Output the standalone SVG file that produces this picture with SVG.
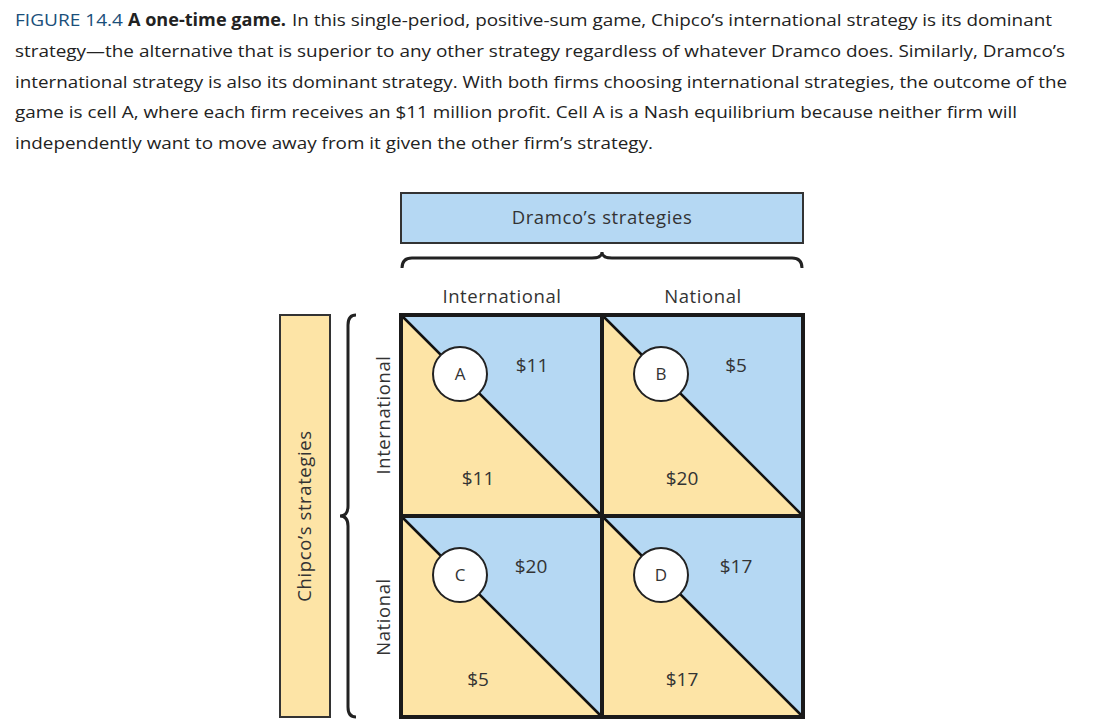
<svg xmlns="http://www.w3.org/2000/svg" width="1110" height="727" viewBox="0 0 1110 727">
<style>
.cap{font-family:"Open Sans","Liberation Sans",sans-serif;font-size:17px;fill:#222}
.lbl{font-family:"Open Sans","Liberation Sans",sans-serif;font-size:18.5px;fill:#333;text-anchor:middle;letter-spacing:0.6px}
.val{font-family:"Open Sans","Liberation Sans",sans-serif;font-size:19px;fill:#333;text-anchor:middle}
.blue{fill:#b5d8f3}
.yel{fill:#fde4a6}
.circ{fill:#fff;stroke:#222;stroke-width:2}
.ltr{font-family:"Open Sans","Liberation Sans",sans-serif;font-size:17px;fill:#333;text-anchor:middle}
.brace{fill:none;stroke:#222;stroke-width:3}
</style>
<rect width="1110" height="727" fill="#fff"/>
<g id="caption">
<text class="cap" x="15" y="26" style="fill:#1a4f7a" textLength="108" lengthAdjust="spacingAndGlyphs">FIGURE 14.4</text>
<text class="cap" x="128" y="26" font-weight="bold" textLength="158" lengthAdjust="spacingAndGlyphs">A one-time game.</text>
<text class="cap" x="292" y="26" textLength="760" lengthAdjust="spacingAndGlyphs">In this single-period, positive-sum game, Chipco’s international strategy is its dominant</text>
<text class="cap" x="15" y="57" textLength="1050" lengthAdjust="spacingAndGlyphs">strategy—the alternative that is superior to any other strategy regardless of whatever Dramco does. Similarly, Dramco’s</text>
<text class="cap" x="15" y="88" textLength="1052" lengthAdjust="spacingAndGlyphs">international strategy is also its dominant strategy. With both firms choosing international strategies, the outcome of the</text>
<text class="cap" x="15" y="118" textLength="1002" lengthAdjust="spacingAndGlyphs">game is cell A, where each firm receives an $11 million profit. Cell A is a Nash equilibrium because neither firm will</text>
<text class="cap" x="15" y="149" textLength="638" lengthAdjust="spacingAndGlyphs">independently want to move away from it given the other firm’s strategy.</text>
</g>
<g id="dramco">
<rect x="401" y="193" width="402" height="50" class="blue" stroke="#333" stroke-width="2"/>
<text class="lbl" x="602" y="224">Dramco’s strategies</text>
</g>
<path class="brace" d="M402,268 Q402,258 412,258 L592,258 Q602,258 602,252 Q602,258 612,258 L792,258 Q802,258 802,268"/>
<text class="lbl" x="502" y="303">International</text>
<text class="lbl" x="703" y="303">National</text>
<g id="chipco">
<rect x="280" y="315" width="50" height="402" class="yel" stroke="#333" stroke-width="2"/>
<text class="lbl" transform="translate(311,516) rotate(-90)">Chipco’s strategies</text>
</g>
<path class="brace" d="M356,315 Q348,315 348,325 L348,506 Q348,516 340,516 Q348,516 348,526 L348,707 Q348,717 356,717"/>
<text class="lbl" transform="translate(390,415) rotate(-90)">International</text>
<text class="lbl" transform="translate(390,617) rotate(-90)">National</text>
<g id="cellA">
<polygon class="yel" points="401,315 602,516 401,516"/>
<polygon class="blue" points="401,315 602,315 602,516"/>
<line x1="401" y1="315" x2="602" y2="516" stroke="#111" stroke-width="2.5"/>
<circle class="circ" cx="460" cy="374" r="27"/>
<text class="ltr" x="460" y="380">A</text>
<text class="val" x="532" y="372">$11</text>
<text class="val" x="478" y="485">$11</text>
</g>
<g id="cellB">
<polygon class="yel" points="602,315 803,516 602,516"/>
<polygon class="blue" points="602,315 803,315 803,516"/>
<line x1="602" y1="315" x2="803" y2="516" stroke="#111" stroke-width="2.5"/>
<circle class="circ" cx="661" cy="374" r="27"/>
<text class="ltr" x="661" y="380">B</text>
<text class="val" x="736" y="372">$5</text>
<text class="val" x="682" y="485">$20</text>
</g>
<g id="cellC">
<polygon class="yel" points="401,516 602,717 401,717"/>
<polygon class="blue" points="401,516 602,516 602,717"/>
<line x1="401" y1="516" x2="602" y2="717" stroke="#111" stroke-width="2.5"/>
<circle class="circ" cx="460" cy="575" r="27"/>
<text class="ltr" x="460" y="581">C</text>
<text class="val" x="531" y="573">$20</text>
<text class="val" x="478" y="686">$5</text>
</g>
<g id="cellD">
<polygon class="yel" points="602,516 803,717 602,717"/>
<polygon class="blue" points="602,516 803,516 803,717"/>
<line x1="602" y1="516" x2="803" y2="717" stroke="#111" stroke-width="2.5"/>
<circle class="circ" cx="661" cy="575" r="27"/>
<text class="ltr" x="661" y="581">D</text>
<text class="val" x="736" y="573">$17</text>
<text class="val" x="682" y="686">$17</text>
</g>
<g id="grid" fill="none" stroke="#1a1a1a" stroke-width="4">
<rect x="401" y="315" width="402" height="402"/>
<line x1="602" y1="315" x2="602" y2="717"/>
<line x1="401" y1="516" x2="803" y2="516"/>
</g>
</svg>
